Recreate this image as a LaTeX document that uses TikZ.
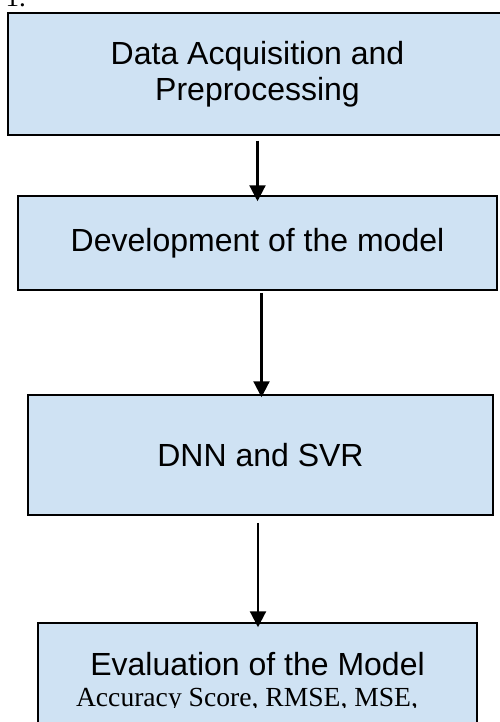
\documentclass[tikz,border=0pt]{standalone}
\usepackage{fontspec}
\setmainfont{Liberation Serif}
\setsansfont{Liberation Sans}
\usetikzlibrary{arrows.meta,positioning}
\definecolor{boxblue}{HTML}{CFE2F3}

\begin{document}
\begin{tikzpicture}[x=1pt,y=-1pt,
  stage/.style={draw,line width=1.5pt,fill=boxblue,inner sep=0pt,align=center,font=\sffamily\fontsize{32}{36}\selectfont},
  flow/.style={-{Triangle[width=16pt,length=16pt]},line width=2.2pt}
]
  \clip (0,0) rectangle (500,722);
  \node[anchor=base west,font=\fontsize{27}{30}\selectfont] (fignum) at (2,7) {1.};
  \node[stage,minimum width=499pt,minimum height=122pt] (acq)   at (257.5,74)  {Data Acquisition and\\Preprocessing};
  \node[stage,minimum width=479pt,minimum height=94pt]  (dev)   at (257.5,243) {Development of the model};
  \node[stage,minimum width=465pt,minimum height=120pt] (model) at (260.5,455) {DNN and SVR};
  \node[stage,minimum width=439pt,minimum height=137pt] (eval)  at (257.5,691.5) {};
  \begin{scope}
    \clip (0,0) rectangle (500,707);
    \node[anchor=base,font=\sffamily\fontsize{32}{36}\selectfont] (evalhead) at (257.5,675) {Evaluation of the Model};
    \node[anchor=base,font=\fontsize{27.6}{30}\selectfont] (evalmetric) at (247,706) {Accuracy Score, RMSE, MSE,};
  \end{scope}

  \draw[flow,shorten <=5pt,shorten >=-6pt] (acq.south) -- (acq.south |- dev.north);
  \draw[flow,shorten <=2pt,shorten >=-3pt] ([xshift=4pt]dev.south) -- ([xshift=4pt]dev.south |- model.north);
  \draw[flow,shorten <=7pt,shorten >=-5pt] ([xshift=-2.5pt]model.south) -- ([xshift=-2.5pt]model.south |- eval.north);
\end{tikzpicture}
\end{document}
